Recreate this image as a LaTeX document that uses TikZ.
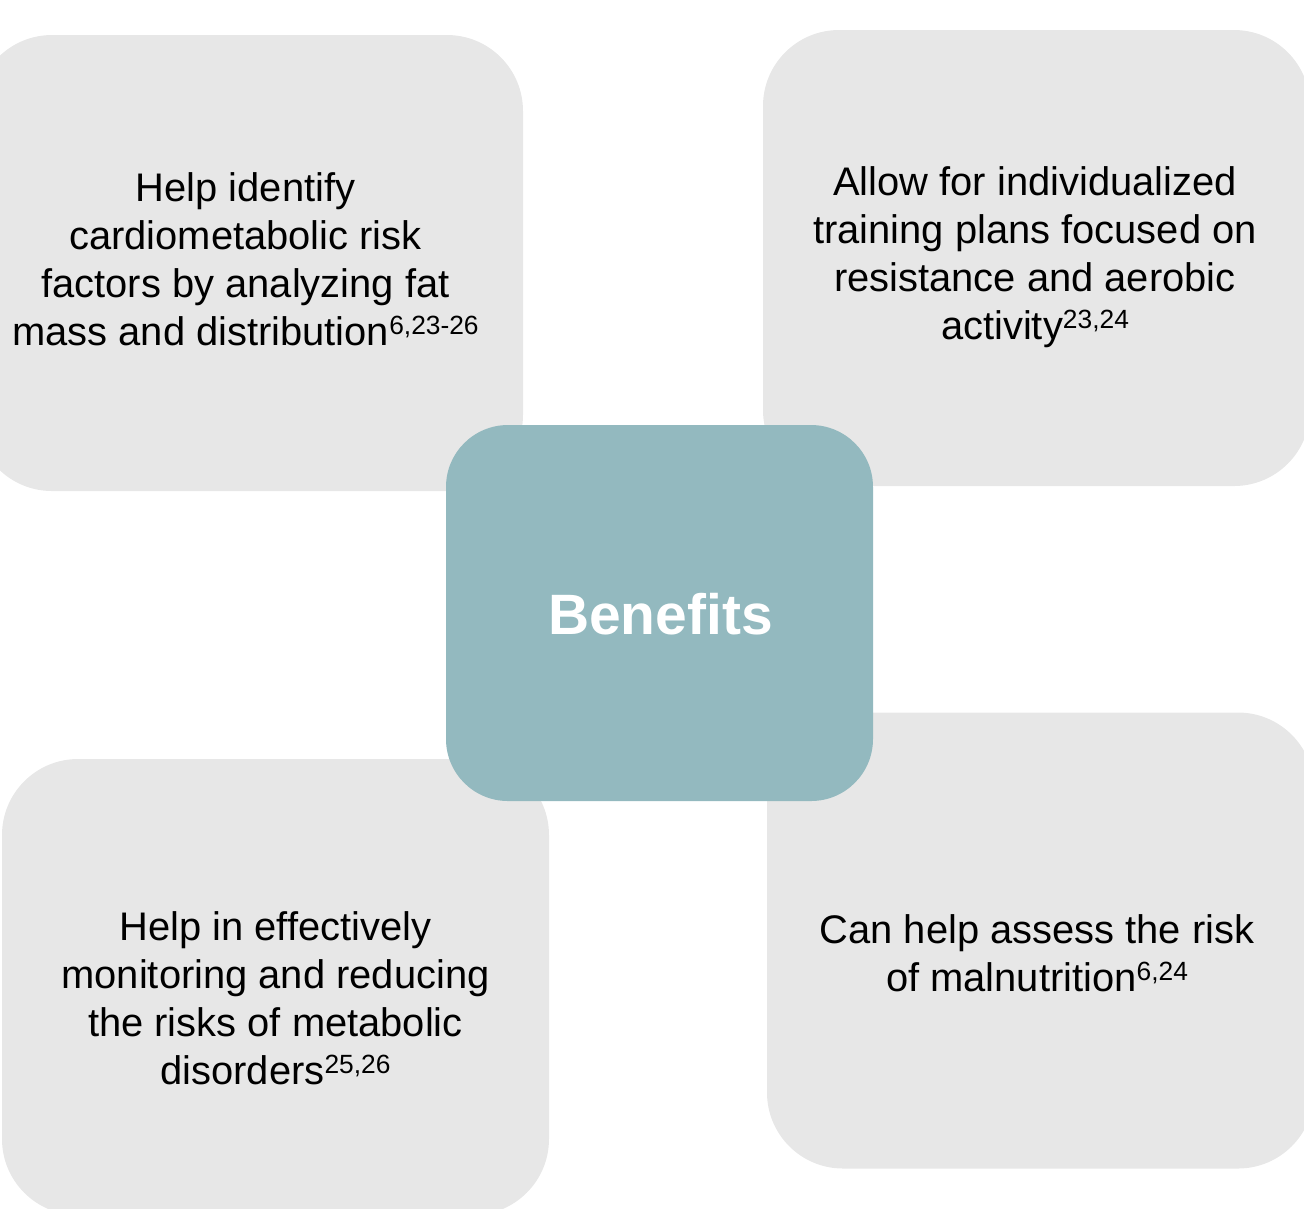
\documentclass[tikz,border=0pt]{standalone}
\usepackage{fontspec}
\setmainfont{Liberation Sans}
\usetikzlibrary{positioning}
\definecolor{cardgray}{HTML}{E7E7E7}
\definecolor{hubteal}{HTML}{93B9BF}
\newcommand\supref[1]{\raisebox{1.1mm}{\fontsize{7.5}{8}\selectfont #1}}
\tikzset{
  % rutor
  card/.style={rectangle,fill=cardgray,rounded corners=7.6mm,inner sep=0pt,outer sep=0pt,
               minimum width=54.7mm,minimum height=45.6mm},
  hub/.style={rectangle,fill=hubteal,rounded corners=6.2mm,inner sep=0pt,outer sep=0pt,
              minimum width=42.7mm,minimum height=37.6mm},
  % texter
  ct/.style={align=center,anchor=north,inner sep=0pt,font=\fontsize{11.35}{13.66}\selectfont},
  hl/.style={anchor=base,inner sep=0pt,text=white,font=\fontsize{16.2}{19}\selectfont\bfseries},
}
\begin{document}
\begin{tikzpicture}
  \useasboundingbox (0,0) rectangle (13.04,-12.08);
  \clip (0,0) rectangle (13.04,-12.08);
  \node[card] (c1) at (2.495,-2.63) {};   \node[card] (c2) at (10.365,-2.58) {};
  \node[card] (c3) at (2.755,-9.87) {};   \node[card] (c4) at (10.405,-9.405) {};
  \node[hub] (hub) at (6.595,-6.13) {};
  \node[ct] (t1) at (2.455,-1.72) {Help identify\\cardiometabolic risk\\factors by analyzing fat\\mass and distribution\supref{6,23-26}};
  \node[ct] (t2) at (10.35,-1.655) {Allow for individualized\\training plans focused on\\resistance and aerobic\\activity\supref{23,24}};
  \node[ct] (t3) at (2.755,-9.105) {Help in effectively\\monitoring and reducing\\the risks of metabolic\\disorders\supref{25,26}};
  \node[ct] (t4) at (10.37,-9.14) {Can help assess the risk\\of malnutrition\supref{6,24}};
  \node[hl] (title) at (6.605,-6.34) {Benefits};
\end{tikzpicture}
\end{document}
